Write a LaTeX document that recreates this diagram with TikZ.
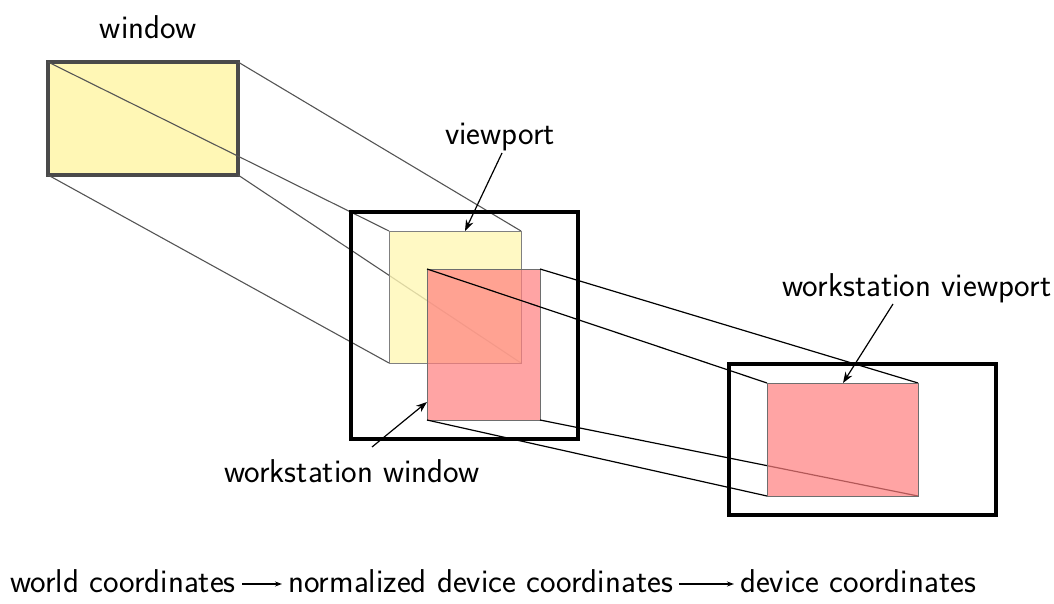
\documentclass[tikz,border=0pt]{standalone}
\usetikzlibrary{arrows.meta}
\definecolor{paleyellow}{RGB}{255,247,181}
\definecolor{softpink}{RGB}{255,126,126}
\definecolor{frame}{RGB}{74,74,74}
\definecolor{proj}{RGB}{85,85,85}
\begin{document}
\begin{tikzpicture}[x=1pt,y=-1pt,
  lbl/.style={font=\sffamily\fontsize{33}{38}\selectfont, inner sep=0pt},
  bigbox/.style={draw=black, line width=3.6pt},
  yelbox/.style={fill=paleyellow, fill opacity=0.8, draw=gray, line width=0.9pt},
  pinkbox/.style={fill=softpink, fill opacity=0.7, draw=frame!80, line width=0.9pt},
  grayproj/.style={draw=proj, line width=1.1pt},
  blackproj/.style={draw=black, line width=1.2pt},
  pointer/.style={draw=black, line width=1.2pt, -{Stealth[length=11pt,width=8pt]}},
  flow/.style={draw=black, line width=1.2pt, -{Stealth[length=7pt,width=5pt]}}]
\useasboundingbox (0,0) rectangle (1054,604);

% world window
\fill[paleyellow] (48,62) rectangle (238,175);
\draw[frame, line width=3.4pt] (48,62) rectangle (238,175);
\coordinate (wTL) at (48,62);  \coordinate (wTR) at (238,62);
\coordinate (wBL) at (48,175); \coordinate (wBR) at (238,175);

% normalized device space and viewport
\coordinate (vTL) at (389,231); \coordinate (vTR) at (521,231);
\coordinate (vBL) at (389,363); \coordinate (vBR) at (521,363);
\draw[grayproj] (wTL) -- (vTL);
\draw[grayproj] (wTR) -- (vTR);
\draw[grayproj] (wBL) -- (vBL);
\draw[grayproj] (wBR) -- (vBR);
\draw[bigbox] (351,212) rectangle (578,439);
\path[yelbox] (vTL) rectangle (vBR);

% workstation window
\coordinate (sTL) at (427,269); \coordinate (sTR) at (540,269);
\coordinate (sBL) at (427,420); \coordinate (sBR) at (540,420);
\path[pinkbox] (sTL) rectangle (sBR);

% device space and workstation viewport
\coordinate (dTL) at (767,383); \coordinate (dTR) at (918,383);
\coordinate (dBL) at (767,496); \coordinate (dBR) at (918,496);
\draw[bigbox] (729,364) rectangle (996,515);
\draw[blackproj] (sTL) -- (dTL);
\draw[blackproj] (sTR) -- (dTR);
\draw[blackproj] (sBL) -- (dBL);
\draw[blackproj] (sBR) -- (dBR);
\path[pinkbox] (dTL) rectangle (dBR);

% labels
\node[lbl] (lwin) at (148,27) {window};
\node[lbl] (lvp) at (500,137) {viewport};
\node[lbl] (lwsv) at (917,288) {workstation viewport};
\node[lbl] (lwsw) at (352,471) {workstation window};

\coordinate (avp) at (465,231);
\coordinate (awsv) at (843,383);
\coordinate (awsw) at (427,402);
\draw[pointer] (502,153) -- (avp);
\draw[pointer] (893,304) -- (awsv);
\draw[pointer] (372,447) -- (awsw);

% coordinate pipeline
\node[lbl, anchor=base west] (wc) at (10,592) {world coordinates};
\node[lbl, anchor=base west] (ndc) at (288,592) {normalized device coordinates};
\node[lbl, anchor=base west] (dc) at (740,592) {device coordinates};
\draw[flow] ([xshift=6pt,yshift=8pt]wc.base east) -- ([xshift=-6pt,yshift=8pt]ndc.base west);
\draw[flow] ([xshift=6pt,yshift=8pt]ndc.base east) -- ([xshift=-6pt,yshift=8pt]dc.base west);
\end{tikzpicture}
\end{document}
